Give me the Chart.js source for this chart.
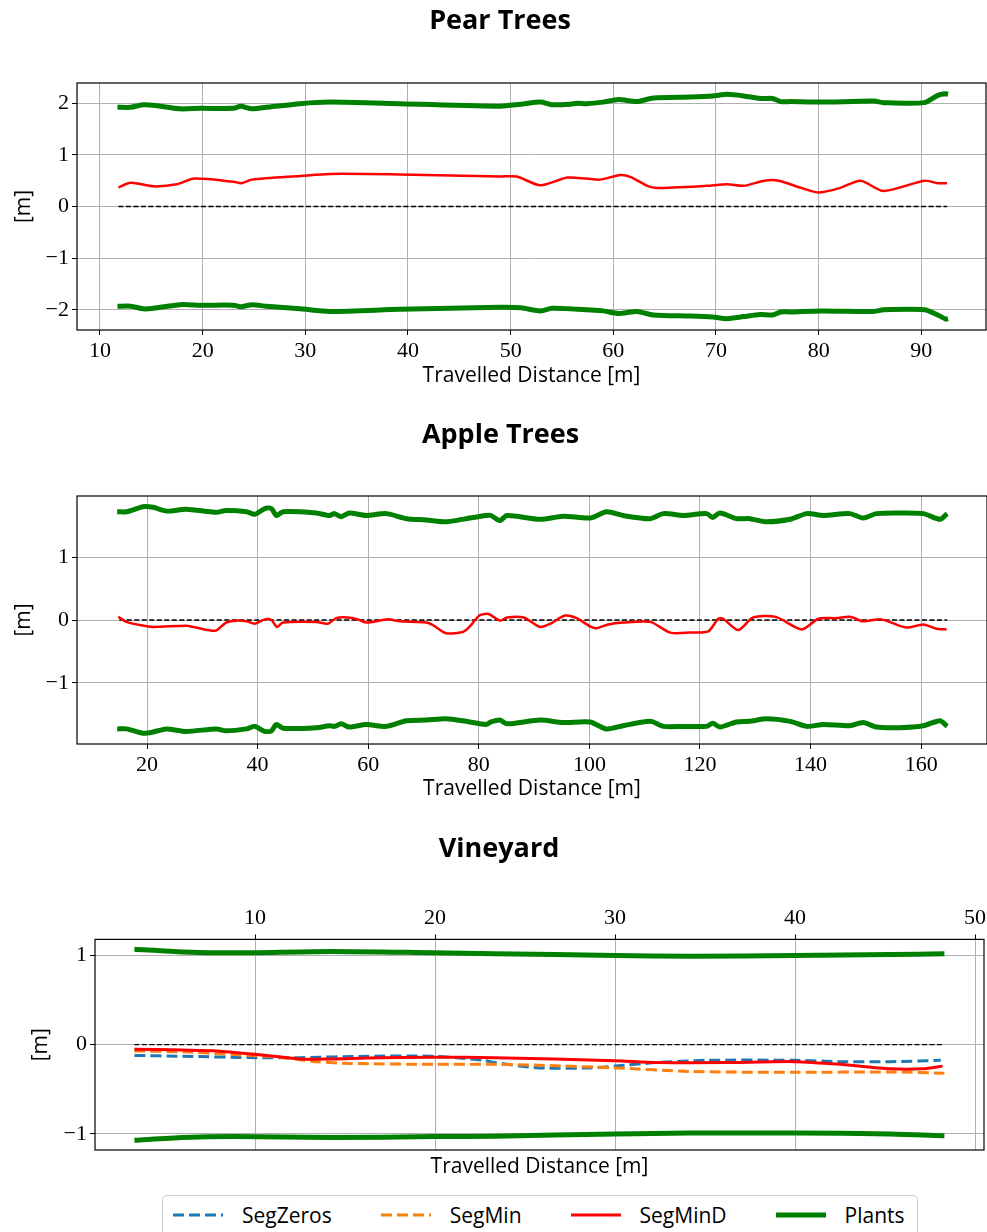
<!DOCTYPE html>
<html>
<head>
<meta charset="utf-8">
<script src="https://cdn.jsdelivr.net/npm/chart.js@4.4.0/dist/chart.umd.min.js"></script>
<style>
  body { margin: 0; background: #fff; width: 987px; height: 1232px; overflow: hidden; position: relative; }
  .plot { position: absolute; left: 0; }
  #legend {
    position: absolute; left: 162px; top: 1195px; width: 756px; height: 50px;
    border: 1px solid #cccccc; border-radius: 5px; background: #fff;
    box-sizing: border-box; display: flex; align-items: flex-start; padding: 4px 0 0 9px;
    font-family: "Open Sans", sans-serif; font-size: 21px; color: #000;
  }
  .item { display: flex; align-items: center; margin-right: 48px; height: 30px; }
  .item svg { margin-right: 18px; }
</style>
</head>
<body>
<div class="plot" style="top:0"><canvas id="pear" width="987" height="395"></canvas></div>
<div class="plot" style="top:410px"><canvas id="apple" width="987" height="398"></canvas></div>
<div class="plot" style="top:820px"><canvas id="vine" width="987" height="360"></canvas></div>
<div id="legend"></div>
<script>
// ---- Pear Trees ----
const pearPlantX = [11.7, 13.0, 14.2, 15.2, 17.8, 19.8, 23.0, 23.7, 24.8, 26.2, 29.5, 32.4, 39.2, 49.0, 51.0, 52.9, 54.0, 55.8, 56.5, 57.4, 59.0, 60.5, 62.3, 63.9, 67.5, 69.7, 71.1, 72.7, 74.3, 75.5, 76.3, 77.3, 80.2, 85.4, 86.3, 90.3, 91.6, 92.4, 92.6];
const pearPlantsLeft = [1.92, 1.92, 1.97, 1.96, 1.89, 1.90, 1.90, 1.94, 1.89, 1.92, 1.99, 2.02, 1.99, 1.94, 1.98, 2.02, 1.97, 1.98, 2.00, 1.99, 2.02, 2.07, 2.03, 2.10, 2.12, 2.14, 2.17, 2.14, 2.09, 2.09, 2.03, 2.03, 2.02, 2.04, 2.01, 2.01, 2.15, 2.18, 2.17];
const pearPlantsRight = [-1.93, -1.93, -1.98, -1.97, -1.90, -1.91, -1.91, -1.94, -1.90, -1.93, -1.98, -2.03, -1.99, -1.95, -1.96, -2.02, -1.97, -1.98, -1.99, -2.00, -2.02, -2.07, -2.03, -2.10, -2.12, -2.14, -2.17, -2.13, -2.09, -2.10, -2.04, -2.04, -2.02, -2.03, -2.00, -2.00, -2.10, -2.18, -2.17];
const pearSegX = [11.8, 13.0, 15.2, 17.5, 19.2, 23.0, 23.8, 24.8, 29.5, 32.4, 39.2, 49.0, 50.6, 52.9, 55.5, 57.4, 58.7, 60.7, 61.7, 63.3, 64.3, 69.1, 71.1, 72.7, 74.7, 76.1, 78.3, 80.0, 82.1, 84.1, 86.3, 90.3, 91.6, 92.5];
const pearSegMinD = [0.37, 0.46, 0.39, 0.43, 0.54, 0.48, 0.45, 0.52, 0.59, 0.63, 0.62, 0.58, 0.58, 0.41, 0.56, 0.54, 0.52, 0.61, 0.57, 0.40, 0.36, 0.40, 0.43, 0.40, 0.50, 0.50, 0.36, 0.27, 0.36, 0.50, 0.30, 0.50, 0.45, 0.45];
const pearZeroX = [11.8, 92.5];

// ---- Apple Trees ----
const applePlantX = [14.6, 16.3, 19.3, 21.1, 23.5, 27.1, 32.5, 34.3, 38.0, 39.5, 41.3, 42.5, 43.4, 44.6, 50.6, 53.0, 53.9, 55.1, 56.6, 59.6, 63.3, 66.9, 70.5, 74.1, 77.7, 81.3, 82.2, 83.8, 85.1, 91.1, 95.3, 100.1, 103.1, 106.1, 111.0, 113.4, 117.0, 121.2, 122.3, 123.6, 126.6, 129.0, 132.0, 136.3, 139.3, 142.3, 147.1, 149.5, 151.9, 156.1, 160.4, 163.4, 164.7];
const applePlantsLeft = [1.72, 1.72, 1.80, 1.79, 1.73, 1.76, 1.71, 1.74, 1.72, 1.68, 1.77, 1.77, 1.66, 1.72, 1.70, 1.66, 1.69, 1.64, 1.70, 1.66, 1.69, 1.61, 1.59, 1.56, 1.61, 1.66, 1.66, 1.58, 1.66, 1.60, 1.65, 1.62, 1.72, 1.66, 1.61, 1.69, 1.66, 1.69, 1.63, 1.70, 1.61, 1.61, 1.56, 1.60, 1.69, 1.66, 1.69, 1.62, 1.69, 1.70, 1.69, 1.60, 1.69];
const applePlantsRight = [-1.73, -1.73, -1.80, -1.78, -1.73, -1.77, -1.73, -1.76, -1.73, -1.69, -1.77, -1.76, -1.66, -1.72, -1.71, -1.68, -1.69, -1.65, -1.70, -1.66, -1.69, -1.60, -1.59, -1.57, -1.61, -1.66, -1.62, -1.59, -1.65, -1.59, -1.63, -1.62, -1.73, -1.68, -1.61, -1.69, -1.69, -1.69, -1.64, -1.70, -1.62, -1.61, -1.57, -1.61, -1.69, -1.66, -1.68, -1.63, -1.70, -1.71, -1.68, -1.60, -1.69];
const appleSegX = [14.8, 16.3, 18.7, 21.1, 27.1, 28.9, 32.4, 34.3, 36.1, 38.0, 39.5, 41.3, 42.5, 43.5, 44.6, 50.6, 52.7, 54.2, 56.3, 58.1, 59.6, 63.6, 65.7, 70.5, 71.7, 74.1, 77.1, 78.3, 80.1, 81.6, 82.1, 83.9, 85.1, 88.1, 91.1, 92.9, 95.6, 97.7, 100.1, 101.3, 103.4, 106.1, 111.0, 114.6, 118.2, 121.5, 123.3, 124.2, 126.9, 129.6, 133.7, 138.4, 141.4, 144.7, 147.1, 149.5, 152.8, 157.3, 160.4, 162.8, 164.6];
const appleSegMinD = [0.05, -0.03, -0.08, -0.11, -0.09, -0.12, -0.17, -0.04, -0.01, -0.02, -0.06, 0.01, 0.00, -0.11, -0.04, -0.03, -0.06, 0.03, 0.04, 0.01, -0.04, 0.01, -0.02, -0.04, -0.08, -0.21, -0.19, -0.11, 0.07, 0.10, 0.08, -0.01, 0.04, 0.04, -0.11, -0.06, 0.07, 0.03, -0.10, -0.13, -0.07, -0.04, -0.03, -0.20, -0.20, -0.18, 0.02, 0.02, -0.16, 0.04, 0.05, -0.15, 0.02, 0.03, 0.05, -0.02, 0.01, -0.12, -0.07, -0.14, -0.15];
const appleZeroX = [15.0, 164.7];

// ---- Vineyard ----
const vinePlantX = [3.3, 6.0, 8.8, 14.3, 19.9, 23.3, 30.0, 34.2, 40.0, 45.3, 48.3];
const vinePlantsLeft = [1.07, 1.04, 1.03, 1.045, 1.03, 1.02, 1.00, 0.99, 1.00, 1.01, 1.02];
const vinePlantsRight = [-1.07, -1.04, -1.03, -1.04, -1.03, -1.025, -1.00, -0.99, -0.99, -1.00, -1.02];
const vineMinDX = [3.3, 6.0, 7.9, 10.1, 12.5, 14.3, 16.2, 20.0, 23.3, 30.0, 32.3, 36.0, 40.0, 42.5, 45.3, 47.1, 48.2];
const vineSegMinD = [-0.05, -0.06, -0.07, -0.11, -0.16, -0.16, -0.15, -0.14, -0.145, -0.18, -0.20, -0.20, -0.19, -0.22, -0.27, -0.27, -0.24];
const vineMinX = [3.3, 6.0, 8.8, 11.6, 13.4, 15.3, 20.0, 23.3, 25.8, 30.0, 34.2, 40.0, 45.3, 48.3];
const vineSegMin = [-0.07, -0.08, -0.11, -0.145, -0.19, -0.21, -0.22, -0.22, -0.23, -0.26, -0.30, -0.31, -0.305, -0.32];
const vineZerosX = [3.3, 6.0, 10.1, 12.5, 16.2, 20.0, 22.7, 23.3, 25.8, 28.6, 30.0, 32.3, 35.1, 40.0, 42.5, 45.3, 48.1];
const vineSegZeros = [-0.12, -0.13, -0.145, -0.145, -0.13, -0.13, -0.175, -0.20, -0.26, -0.26, -0.24, -0.20, -0.175, -0.175, -0.19, -0.19, -0.175];
const vineZeroX = [3.3, 48.2];

const seriesNames = ["SegZeros", "SegMin", "SegMinD", "Plants"];
const seriesColors = ["#1f77b4", "#ff7f0e", "#ff0000", "#008000"];
const seriesDash = [[11, 5], [11, 5], [], []];

const SERIF = "'Liberation Serif', serif";
const SANS = "'Open Sans', sans-serif";
const LEFT_PAD = 14; // shifts the centred titles a bit to the right

const pts = (xs, ys) => xs.map((x, i) => ({ x: x, y: ys[i] }));
const minus = v => (v < 0 ? "\u2212" + Math.abs(v) : String(v));

// box round the plot area, like matplotlib spines
const frame = {
  id: "frame",
  afterDraw(chart) {
    const { ctx, chartArea: a } = chart;
    ctx.save();
    ctx.strokeStyle = "#000";
    ctx.lineWidth = 1.2;
    ctx.strokeRect(a.left, a.top, a.right - a.left, a.bottom - a.top);
    ctx.restore();
  }
};

function line(data, color, width, dash, order) {
  return {
    data: data, borderColor: color, backgroundColor: color, borderWidth: width,
    borderDash: dash || [], pointRadius: 0, tension: 0.25, fill: false, order: order
  };
}

function zeroLine(xs) {
  return line(pts(xs, [0, 0]), "#000", 1.3, [5, 2.5], 10);
}

function xAxis(min, max, step, pos, axisHeight, withTitle, titlePad) {
  return {
    type: "linear", position: pos, min: min, max: max,
    ticks: { stepSize: step, includeBounds: false, color: "#000", padding: 3,
      font: { family: SERIF, size: 22 }, maxRotation: 0, callback: minus },
    grid: { color: "#b0b0b0", lineWidth: 1, tickColor: "#000", tickLength: 5 },
    border: { display: false },
    title: { display: withTitle, text: "Travelled Distance [m]", color: "#000",
      font: { family: SANS, size: 21 }, padding: { top: 0, bottom: titlePad } },
    afterFit: s => { s.height = axisHeight; s.paddingLeft = 0; s.paddingRight = 0; }
  };
}

function yAxis(min, max, axisWidth, titlePad) {
  return {
    min: min, max: max,
    ticks: { stepSize: 1, includeBounds: false, color: "#000", padding: 3,
      font: { family: SERIF, size: 22 }, callback: minus },
    grid: { color: "#b0b0b0", lineWidth: 1, tickColor: "#000", tickLength: 5 },
    border: { display: false },
    title: { display: true, text: "[m]", color: "#000",
      font: { family: SANS, size: 21, lineHeight: 1 }, padding: { top: titlePad, bottom: 0 } },
    afterFit: s => { s.width = axisWidth - LEFT_PAD; s.paddingTop = 0; s.paddingBottom = 0; }
  };
}

function titleOpts(text, padTop, padBottom) {
  return {
    display: true, text: text, color: "#000",
    font: { family: SANS, size: 27, weight: "bold" },
    padding: { top: padTop, bottom: padBottom }
  };
}

function baseOptions(title, scales, rightPad) {
  return {
    responsive: false, animation: false, devicePixelRatio: 1,
    layout: { padding: { left: LEFT_PAD, right: rightPad, top: 0, bottom: 0 } },
    plugins: { legend: { display: false }, tooltip: { enabled: false }, title: title },
    scales: scales
  };
}

new Chart(document.getElementById("pear"), {
  type: "line",
  data: { datasets: [
    zeroLine(pearZeroX),
    line(pts(pearSegX, pearSegMinD), seriesColors[2], 2.5, [], 3),
    line(pts(pearPlantX, pearPlantsLeft), seriesColors[3], 5, [], 1),
    line(pts(pearPlantX, pearPlantsRight), seriesColors[3], 5, [], 1)
  ] },
  options: baseOptions(titleOpts("Pear Trees", 5, 45.6), {
    x: xAxis(7.76, 96.3, 10, "bottom", 65, true, 6),
    y: yAxis(-2.39, 2.39, 77, 0)
  }, 1),
  plugins: [frame]
});

new Chart(document.getElementById("apple"), {
  type: "line",
  data: { datasets: [
    zeroLine(appleZeroX),
    line(pts(appleSegX, appleSegMinD), seriesColors[2], 2.5, [], 3),
    line(pts(applePlantX, applePlantsLeft), seriesColors[3], 5, [], 1),
    line(pts(applePlantX, applePlantsRight), seriesColors[3], 5, [], 1)
  ] },
  options: baseOptions(titleOpts("Apple Trees", 9, 44.6), {
    x: xAxis(7.34, 171.9, 20, "bottom", 64, true, 6),
    y: yAxis(-1.97, 1.97, 77, 0)
  }, 0),
  plugins: [frame]
});

const vineScales = {
  x: xAxis(1.11, 50.5, 10, "top", 61, false, 0),
  x2: Object.assign(xAxis(1.11, 50.5, 10, "bottom", 30, true, 0), {
    ticks: { display: false }, grid: { display: false }
  }),
  y: yAxis(-1.18, 1.18, 95, 17)
};

new Chart(document.getElementById("vine"), {
  type: "line",
  data: { datasets: [
    zeroLine(vineZeroX),
    line(pts(vineZerosX, vineSegZeros), seriesColors[0], 3, seriesDash[0], 5),
    line(pts(vineMinX, vineSegMin), seriesColors[1], 3, seriesDash[1], 4),
    line(pts(vineMinDX, vineSegMinD), seriesColors[2], 3, seriesDash[2], 3),
    line(pts(vinePlantX, vinePlantsLeft), seriesColors[3], 5, [], 1),
    line(pts(vinePlantX, vinePlantsRight), seriesColors[3], 5, [], 1)
  ] },
  options: baseOptions(titleOpts("Vineyard", 13, 13), vineScales, 3),
  plugins: [frame]
});

// legend below the last plot
const legend = document.getElementById("legend");
seriesNames.forEach((name, i) => {
  const item = document.createElement("div");
  item.className = "item";
  const w = i === 3 ? 5 : 3;
  item.innerHTML = `
    <svg width="52" height="12"><line x1="1" y1="6" x2="51" y2="6" stroke="${seriesColors[i]}"
      stroke-width="${w}" stroke-dasharray="${seriesDash[i].join(",") || "none"}"/></svg>
    <span>${name}</span>`;
  legend.appendChild(item);
});
</script>
</body>
</html>
